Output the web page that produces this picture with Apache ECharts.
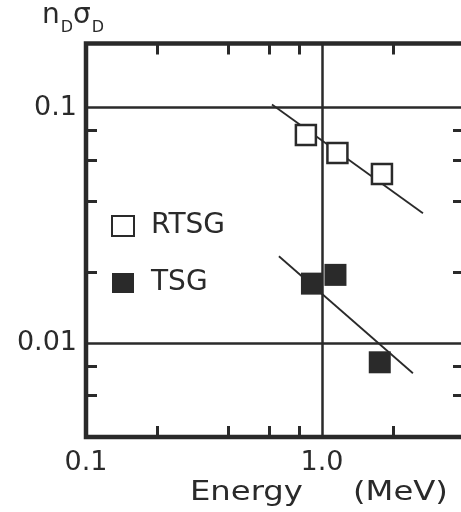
<!DOCTYPE html>
<html><head><meta charset="utf-8">
<script src="https://cdn.jsdelivr.net/npm/echarts@6/dist/echarts.min.js"></script>
<style>html,body{margin:0;padding:0;background:#fff}#c{width:461px;height:512px}</style>
</head><body><div id="c"></div>
<script>
// ---- data ----
const rtsgPoints = [[0.855, 0.0764], [1.163, 0.0641], [1.796, 0.0522]];
const tsgPoints  = [[0.907, 0.0179], [1.141, 0.0195], [1.758, 0.0083]];
const rtsgFit = [[0.614, 0.103], [2.68, 0.0356]];
const tsgFit  = [[0.657, 0.0234], [2.43, 0.00746]];
const xRange = [0.1, 4];
const yRange = [0.004, 0.187];
const xLabelValues = [0.1, 1];
const xLabelTexts  = ['0.1', '1.0'];
const yLabelValues = [0.01, 0.1];
const yLabelTexts  = ['0.01', '0.1'];
const xMinorTicks = [0.2, 0.4, 0.6, 0.8, 2];
const yMinorTicks = [0.006, 0.008, 0.02, 0.04, 0.06, 0.08];

const INK = '#2a2a2a';
const FONT = 'DejaVu Sans';

function labelFor(values, texts) {
  return function (v) {
    for (let i = 0; i < values.length; i++) {
      if (Math.abs(Math.log10(v) - Math.log10(values[i])) < 1e-6) return texts[i];
    }
    return '';
  };
}

const gridGeom = { left: 86, top: 43.5, width: 378, height: 393.5, outerBoundsMode: 'none', containLabel: false };

const tickOnly = (pos, gridIndex, min, max, values) => ({
  type: 'log', logBase: 10, gridIndex, position: pos, min, max,
  axisLine: { show: false }, axisLabel: { show: false }, splitLine: { show: false },
  axisTick: { show: true, inside: true, length: 11, customValues: values,
    lineStyle: { color: INK, width: 3 } }
});

const chart = echarts.init(document.getElementById('c'), null, { renderer: 'canvas' });
chart.setOption({
  animation: false,
  backgroundColor: '#fff',
  title: {
    left: 42, top: 2, padding: 0,
    text: '{n|n}{s|D}{n|σ}{s|D}',
    textStyle: {
      fontWeight: 'normal',
      rich: {
        n: { fontFamily: FONT, fontSize: 28, fontWeight: 'normal', lineHeight: 28, verticalAlign: 'top', color: INK },
        s: { fontFamily: FONT, fontSize: 16, fontWeight: 'normal', lineHeight: 16, verticalAlign: 'top', padding: [18, 0, 0, 1], color: INK }
      }
    }
  },
  legend: {
    orient: 'vertical', left: 106, top: 206,
    data: ['RTSG', 'TSG'],
    itemWidth: 22, itemHeight: 20, itemGap: 27,
    textStyle: { fontFamily: FONT, fontSize: 28, lineHeight: 30, color: INK, padding: [0, 0, 0, 12] }
  },
  grid: [
    Object.assign({ show: true, borderWidth: 4.5, borderColor: INK, backgroundColor: 'transparent' }, gridGeom),
    Object.assign({ show: false }, gridGeom)
  ],
  xAxis: [
    {
      type: 'log', logBase: 10, gridIndex: 0, position: 'bottom', min: xRange[0], max: xRange[1],
      axisLine: { show: false }, axisTick: { show: false },
      axisLabel: { show: true, showMinLabel: true, showMaxLabel: true, margin: 12,
        fontFamily: FONT, fontSize: 27, color: INK, formatter: labelFor(xLabelValues, xLabelTexts) },
      splitLine: { show: true, lineStyle: { color: INK, width: 2.5, type: 'solid' } }
    },
    tickOnly('bottom', 1, xRange[0], xRange[1], xMinorTicks),
    tickOnly('top', 1, xRange[0], xRange[1], xMinorTicks)
  ],
  yAxis: [
    {
      type: 'log', logBase: 10, gridIndex: 0, position: 'left', min: yRange[0], max: yRange[1],
      axisLine: { show: false }, axisTick: { show: false },
      axisLabel: { show: true, showMinLabel: true, showMaxLabel: true, margin: 9,
        fontFamily: FONT, fontSize: 27, color: INK, formatter: labelFor(yLabelValues, yLabelTexts) },
      splitLine: { show: true, lineStyle: { color: INK, width: 2.5, type: 'solid' } }
    },
    tickOnly('left', 1, yRange[0], yRange[1], yMinorTicks),
    tickOnly('right', 1, yRange[0], yRange[1], yMinorTicks)
  ],
  graphic: [
    { type: 'text', left: 190, top: 480, scaleX: 1.24, originX: 0,
      style: { text: 'Energy', font: '26px "DejaVu Sans"', fill: INK } },
    { type: 'text', left: 353, top: 480, scaleX: 1.24, originX: 0,
      style: { text: '(MeV)', font: '26px "DejaVu Sans"', fill: INK } }
  ],
  series: [
    { name: 'RTSG fit', type: 'line', xAxisIndex: 0, yAxisIndex: 0, data: rtsgFit, symbol: 'none',
      silent: true, z: 1, lineStyle: { color: INK, width: 1.8 } },
    { name: 'TSG fit', type: 'line', xAxisIndex: 0, yAxisIndex: 0, data: tsgFit, symbol: 'none',
      silent: true, z: 1, lineStyle: { color: INK, width: 1.8 } },
    { name: 'RTSG', type: 'scatter', xAxisIndex: 0, yAxisIndex: 0, data: rtsgPoints, symbol: 'rect',
      symbolSize: 20, z: 3, itemStyle: { color: '#fff', borderColor: INK, borderWidth: 2.5, opacity: 1 } },
    { name: 'TSG', type: 'scatter', xAxisIndex: 0, yAxisIndex: 0, data: tsgPoints, symbol: 'rect',
      symbolSize: 22, z: 3, itemStyle: { color: INK, opacity: 1 } }
  ]
});
</script></body></html>
